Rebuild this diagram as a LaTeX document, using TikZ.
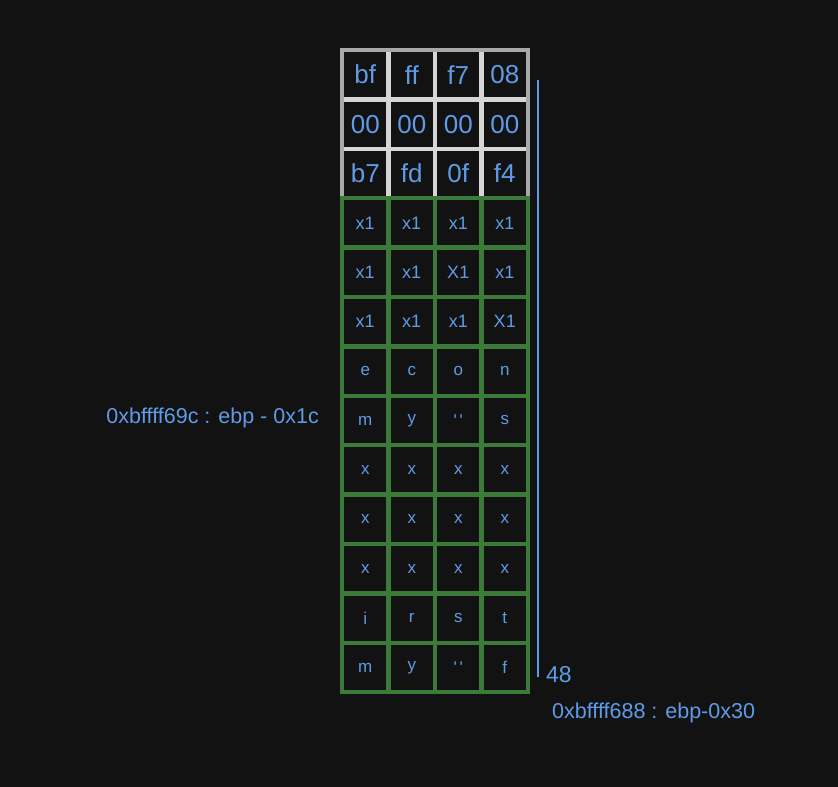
\documentclass[tikz,border=0pt]{standalone}
\usepackage{fontspec}
\setmainfont{Liberation Sans}
\definecolor{bgdark}{HTML}{121212}
\definecolor{inkblue}{HTML}{5F9BE6}
\definecolor{hexgray}{HTML}{D6D6D6}
\definecolor{framegray}{HTML}{A8A8A8}
\definecolor{stackgreen}{HTML}{3B7A38}
\newcommand{\ticks}{\textquotesingle\,\textquotesingle}

\begin{document}
\begin{tikzpicture}[x=1pt,y=-1pt,
    cell/.style={draw,line width=4.5pt,minimum width=46.5pt,minimum height=49.4pt,inner sep=0pt,outer sep=0pt,text=inkblue},
    hexcell/.style={cell,draw=hexgray,font=\fontsize{26}{28}\selectfont},
    onecell/.style={cell,draw=stackgreen,font=\fontsize{18}{20}\selectfont},
    charcell/.style={cell,draw=stackgreen,font=\fontsize{17}{19}\selectfont},
    addr/.style={text=inkblue,font=\fontsize{21.5}{24}\selectfont,inner sep=0pt}]
  \fill[bgdark] (0,0) rectangle (838,787);
  \useasboundingbox (0,0) rectangle (838,787);
  % saved ebp / return address words
  \foreach \r/\a/\b/\e/\d in {1/bf/ff/f7/08, 2/00/00/00/00, 3/b7/fd/0f/f4}
    \foreach \w [count=\k] in {\a,\b,\e,\d}
      \node[hexcell] (cell-\r-\k) at ({342+46.5*(\k-0.5)},{50+49.4*(\r-0.5)}) {\w};
  \draw[framegray,line width=4.5pt] (cell-1-1.north west) rectangle (cell-3-4.south east);
  % local buffer
  \foreach \r/\a/\b/\e/\d in {4/x1/x1/x1/x1, 5/x1/x1/X1/x1, 6/x1/x1/x1/X1}
    \foreach \w [count=\k] in {\a,\b,\e,\d}
      \node[onecell] (cell-\r-\k) at ({342+46.5*(\k-0.5)},{50+49.4*(\r-0.5)}) {\w};
  \foreach \r/\a/\b/\e/\d in {7/e/c/o/n, 8/m/y/\ticks/s, 9/x/x/x/x, 10/x/x/x/x,
      11/x/x/x/x, 12/i/r/s/t, 13/m/y/\ticks/f}
    \foreach \w [count=\k] in {\a,\b,\e,\d}
      \node[charcell] (cell-\r-\k) at ({342+46.5*(\k-0.5)},{50+49.4*(\r-0.5)}) {\w};
  % size of the span
  \coordinate (spantop) at (538,80);
  \coordinate (spanbot) at (538,677);
  \draw[inkblue,line width=2pt] (spantop) -- (spanbot);
  \node[addr,anchor=west,font=\fontsize{23}{26}\selectfont] (spanlen) at (546,675) {48};
  \node[addr,anchor=east] (addrhigh) at (319,418) {0xbffff69c : ebp - 0x1c};
  \node[addr,anchor=west] (addrlow) at (552,713) {0xbffff688 : ebp-0x30};
\end{tikzpicture}
\end{document}
